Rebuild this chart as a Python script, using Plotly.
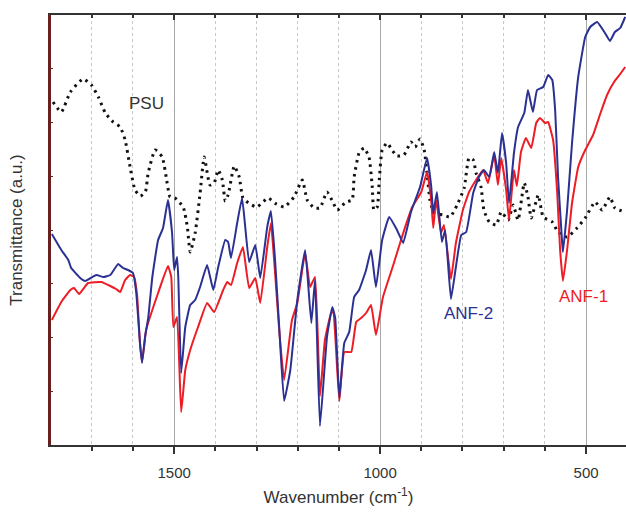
import plotly.graph_objects as go

# ---- data (wavenumber in cm^-1, transmittance in arbitrary units) ----
psu_wn = [1794, 1774, 1752, 1721, 1701, 1684, 1667, 1648, 1631, 1619, 1607, 1595, 1582, 1570, 1563,
          1546, 1529, 1517, 1510, 1498, 1478, 1468, 1461, 1449, 1437, 1427, 1413, 1403, 1393, 1383,
          1376, 1369, 1354, 1342, 1333, 1316, 1299, 1272, 1252, 1233, 1209, 1189, 1177, 1160, 1146,
          1129, 1117, 1104, 1083, 1068, 1063, 1051, 1039, 1027, 1019, 1015, 1007, 1002, 995, 983,
          971, 959, 942, 925, 915, 903, 893, 886, 879, 869, 847, 830, 813, 796, 784, 774, 767, 755,
          748, 735, 718, 706, 689, 677, 665, 650, 641, 633, 616, 604, 582, 568, 546, 522, 502, 478,
          461, 442, 430, 405]
psu_t = [343, 333, 353, 366, 360, 348, 332, 323, 318, 305, 278, 255, 249, 253, 272,
         295, 288, 262, 248, 247, 238, 218, 193, 212, 252, 288, 260, 262, 275, 265,
         244, 250, 279, 268, 247, 241, 238, 247, 241, 238, 248, 265, 245, 237, 237,
         253, 245, 235, 243, 245, 268, 292, 297, 288, 258, 235, 238, 265, 295, 302,
         295, 289, 290, 303, 298, 306, 295, 272, 245, 232, 230, 228, 240, 257, 287, 285, 272, 258,
         235, 223, 220, 233, 225, 240, 225, 262, 248, 227, 250, 228, 223, 213, 208, 217, 227, 243,
         235, 248, 237, 233]

anf2_wn = [1797, 1774, 1757, 1750, 1728, 1716, 1689, 1672, 1655, 1636, 1624, 1612, 1600, 1592, 1583,
           1578, 1570, 1563, 1553, 1539, 1527, 1515, 1505, 1500, 1493, 1490, 1483, 1473, 1461, 1449,
           1437, 1420, 1405, 1393, 1376, 1369, 1362, 1347, 1335, 1318, 1303, 1291, 1274, 1265, 1255,
           1245, 1233, 1218, 1201, 1182, 1167, 1158, 1146, 1129, 1116, 1109, 1099, 1087, 1075, 1063,
           1051, 1034, 1022, 1010, 995, 978, 959, 944, 925, 903, 886, 876, 871, 862, 850, 842, 828,
           816, 803, 791, 774, 760, 748, 735, 723, 714, 704, 694, 687, 675, 665, 650, 641, 629, 619,
           604, 592, 582, 575, 568, 558, 556, 546, 534, 519, 502, 490, 473, 454, 442, 430, 417, 405]
anf2_t = [211, 195, 185, 177, 167, 164, 170, 168, 170, 181, 177, 175, 172, 152, 102,
          82, 110, 127, 168, 205, 217, 245, 212, 175, 188, 168, 72, 118, 140, 145,
          158, 180, 155, 178, 205, 203, 187, 222, 247, 183, 200, 167, 218, 234, 185,
          118, 44, 75, 145, 195, 122, 165, 19, 108, 138, 127, 47, 102, 113, 148,
          155, 175, 195, 158, 205, 228, 215, 202, 233, 258, 287, 259, 232, 253, 203, 215, 146,
          178, 210, 213, 252, 268, 275, 268, 293, 272, 312, 282, 242, 292, 318, 332, 355, 333, 355,
          358, 370, 365, 335, 268, 202, 193, 235, 302, 368, 408, 418, 423, 412, 404, 413, 417, 428]

anf1_wn = [1797, 1774, 1752, 1743, 1731, 1709, 1677, 1655, 1641, 1631, 1619, 1607, 1597, 1590, 1583,
           1578, 1568, 1539, 1515, 1507, 1502, 1493, 1483, 1473, 1461, 1442, 1420, 1403, 1381, 1371,
           1362, 1347, 1333, 1318, 1303, 1291, 1274, 1265, 1255, 1245, 1233, 1214, 1201, 1182, 1170,
           1158, 1146, 1134, 1119, 1114, 1099, 1087, 1070, 1058, 1046, 1034, 1022, 1010, 993, 968,
           947, 922, 900, 886, 876, 871, 864, 852, 845, 828, 816, 799, 784, 767, 750, 738, 723, 714,
           706, 694, 687, 680, 675, 668, 658, 646, 633, 621, 612, 599, 592, 580, 570, 563, 556, 546,
           534, 519, 502, 483, 464, 449, 432, 417, 405]
anf1_t = [125, 143, 155, 157, 151, 162, 163, 159, 156, 153, 165, 170, 168, 150, 102,
          83, 115, 152, 179, 168, 118, 128, 33, 75, 95, 118, 142, 133, 155, 163,
          160, 182, 198, 157, 167, 142, 198, 222, 172, 115, 65, 125, 142, 192, 158,
          168, 49, 105, 132, 133, 44, 93, 93, 123, 127, 132, 140, 110, 148, 180,
          208, 238, 253, 273, 245, 217, 245, 212, 220, 166, 202, 235, 253, 265, 275, 262, 290, 260,
          287, 255, 225, 255, 275, 259, 293, 307, 297, 322, 327, 322, 323, 305, 252, 195, 164, 195,
          242, 278, 295, 310, 333, 350, 363, 371, 378]

x_range = [1799, 403]
y_range = [0, 430]
major_ticks = [500, 1000, 1500]

BLUE = "#2b3192"
RED = "#ee1c25"
FONT = "Arial, Liberation Sans, sans-serif"

fig = go.Figure()
fig.add_trace(go.Scatter(x=psu_wn, y=psu_t, mode="lines", name="PSU",
                         line=dict(color="#111111", width=3, dash="2.5px,4.5px", shape="spline", smoothing=0.5)))
fig.add_trace(go.Scatter(x=anf1_wn, y=anf1_t, mode="lines", name="ANF-1",
                         line=dict(color=RED, width=2, shape="spline", smoothing=0.35)))
fig.add_trace(go.Scatter(x=anf2_wn, y=anf2_t, mode="lines", name="ANF-2",
                         line=dict(color=BLUE, width=2, shape="spline", smoothing=0.35)))
# invisible trace to anchor the top axis
fig.add_trace(go.Scatter(x=[x_range[0]], y=[y_range[0]], xaxis="x2", mode="markers",
                         marker=dict(opacity=0), showlegend=False, hoverinfo="skip"))

fig.add_annotation(x=1568, y=342, text="PSU", showarrow=False, font=dict(size=17, color="#333333", family=FONT))
fig.add_annotation(x=786, y=132, text="ANF-2", showarrow=False, font=dict(size=17, color=BLUE, family=FONT))
fig.add_annotation(x=507, y=149, text="ANF-1", showarrow=False, font=dict(size=17, color=RED, family=FONT))

fig.update_layout(
    width=626, height=512,
    margin=dict(l=51, r=0, t=15, b=67, autoexpand=False),
    paper_bgcolor="white", plot_bgcolor="white",
    showlegend=False,
    font=dict(family=FONT, size=15, color="#333333"),
    xaxis=dict(
        range=x_range, tickvals=major_ticks, ticktext=[str(v) for v in major_ticks],
        automargin=False,
        showline=True, linecolor="#333333", linewidth=2,
        ticks="outside", ticklen=7, tickwidth=1.5, tickcolor="#333333",
        ticklabelstandoff=6,
        showgrid=True, gridcolor="#a8a8a8", gridwidth=1,
        zeroline=False,
        tickfont=dict(size=15, color="#333333", family=FONT),
        title=dict(text="Wavenumber (cm<sup>-1</sup>)", font=dict(size=17, color="#333333", family=FONT), standoff=11),
        minor=dict(dtick=100, tick0=400, ticks="outside", ticklen=4, tickcolor="#333333",
                   showgrid=True, gridcolor="#c8c8c8", griddash="dot", gridwidth=1),
    ),
    xaxis2=dict(
        range=x_range, overlaying="x", side="top", matches="x", automargin=False,
        showline=True, linecolor="#333333", linewidth=2,
        tickvals=major_ticks, ticks="inside", ticklen=5, tickwidth=1.5, tickcolor="#333333",
        showticklabels=False, showgrid=False, zeroline=False,
        minor=dict(dtick=100, tick0=400, ticks="inside", ticklen=3, tickcolor="#333333", showgrid=False),
    ),
    yaxis=dict(
        range=y_range, automargin=False, showline=True, linecolor="#6a1f1f", linewidth=2.5,
        ticks="inside", ticklen=2, tickcolor="#6a1f1f", dtick=53.75, tick0=0,
        showticklabels=False, showgrid=False, zeroline=False,
        title=dict(text="Transmittance (a.u.)", font=dict(size=17, color="#333333", family=FONT), standoff=22),
    ),
)

# remove the page's default body margin so the figure fills the window exactly
fig.write_html("out.html", config={"displayModeBar": False},
               post_script="document.body.style.margin='0px';")
